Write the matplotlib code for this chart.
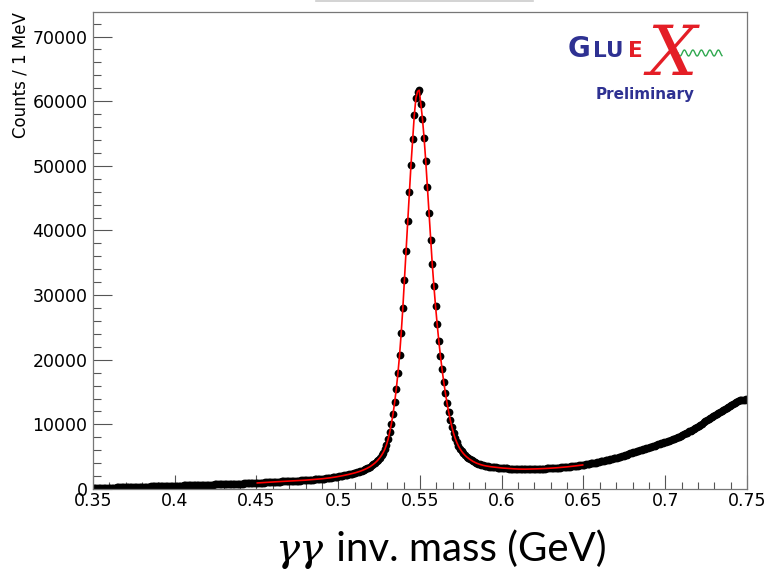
import numpy as np
import matplotlib.pyplot as plt
from matplotlib.lines import Line2D

# counts per 1 MeV bin, first bin centre 0.3505 GeV
counts = [
    150, 152, 160, 163, 171, 176, 182, 190, 196, 204,
    212, 218, 224, 232, 238, 246, 251, 259, 266, 273,
    281, 287, 295, 301, 309, 316, 322, 330, 337, 344,
    352, 359, 367, 373, 381, 389, 396, 403, 411, 418,
    426, 434, 441, 449, 456, 464, 471, 480, 486, 494,
    503, 510, 519, 526, 534, 542, 550, 557, 566, 573,
    582, 590, 598, 606, 614, 622, 631, 638, 647, 655,
    664, 672, 680, 689, 697, 705, 714, 722, 731, 739,
    748, 757, 765, 774, 783, 791, 800, 809, 818, 827,
    836, 845, 855, 864, 873, 883, 892, 902, 911, 921,
    937, 954, 970, 987, 1003, 1020, 1036, 1052, 1068, 1084,
    1098, 1111, 1124, 1137, 1150, 1162, 1175, 1188, 1200, 1213,
    1226, 1240, 1254, 1268, 1283, 1298, 1313, 1328, 1344, 1360,
    1380, 1398, 1417, 1437, 1457, 1478, 1499, 1521, 1543, 1566,
    1592, 1620, 1650, 1682, 1715, 1750, 1787, 1825, 1865, 1908,
    1955, 2003, 2052, 2103, 2156, 2211, 2268, 2327, 2388, 2452,
    2520, 2595, 2675, 2762, 2856, 2958, 3068, 3188, 3320, 3465,
    3640, 3830, 4040, 4280, 4550, 4860, 5220, 5640, 6150, 6850,
    7700, 8800, 10100, 11600, 13400, 15500, 17900, 20700, 24100, 28000,
    32400, 36900, 41400, 45900, 50200, 54100, 57800, 60500, 61500, 61700,
    59600, 57300, 54300, 50800, 46800, 42700, 38600, 34800, 31400, 28300,
    25500, 22900, 20600, 18500, 16600, 14900, 13350, 11950, 10700, 9600,
    8650, 7850, 7200, 6650, 6200, 5820, 5500, 5220, 4980, 4770,
    4580, 4410, 4260, 4130, 4010, 3910, 3820, 3740, 3670, 3610,
    3560, 3515, 3475, 3440, 3410, 3380, 3350, 3320, 3295, 3270,
    3245, 3225, 3205, 3185, 3165, 3150, 3135, 3120, 3105, 3095,
    3085, 3078, 3072, 3070, 3072, 3076, 3080, 3086, 3093, 3100,
    3108, 3116, 3125, 3135, 3146, 3158, 3170, 3183, 3197, 3212,
    3228, 3245, 3263, 3282, 3302, 3323, 3345, 3368, 3392, 3417,
    3443, 3470, 3498, 3527, 3557, 3588, 3620, 3653, 3687, 3722,
    3760, 3800, 3845, 3890, 3960, 4010, 4040, 4090, 4150, 4210,
    4270, 4320, 4375, 4430, 4490, 4550, 4610, 4670, 4730, 4800,
    4870, 4940, 5010, 5090, 5170, 5250, 5330, 5420, 5510, 5600,
    5690, 5770, 5850, 5930, 6010, 6090, 6170, 6250, 6330, 6410,
    6490, 6570, 6650, 6730, 6810, 6890, 6970, 7050, 7130, 7210,
    7300, 7400, 7500, 7650, 7700, 7800, 7900, 8010, 8120, 8230,
    8350, 8480, 8600, 8740, 8950, 9020, 9170, 9320, 9480, 9640,
    9800, 9960, 10130, 10380, 10460, 10620, 10780, 10940, 11100, 11260,
    11420, 11580, 11740, 11900, 12070, 12230, 12400, 12560, 12730, 12900,
    13060, 13220, 13380, 13520, 13640, 13720, 13760, 13780, 13800, 13850,
]
first_bin = 0.3505
bin_width = 0.001
fit_range = (0.45, 0.65)

x_ticks = [0.35, 0.4, 0.45, 0.5, 0.55, 0.6, 0.65, 0.7, 0.75]
x_ticklabels = ["0.35", "0.4", "0.45", "0.5", "0.55", "0.6", "0.65", "0.7", "0.75"]
y_ticks = [0, 10000, 20000, 30000, 40000, 50000, 60000, 70000]

mass = first_bin + bin_width * np.arange(len(counts))
counts = np.array(counts)

W, H = 766, 573
fig = plt.figure(figsize=(W / 100, H / 100), dpi=100)
ax = fig.add_axes([93 / W, 1 - 489 / H, (747 - 93) / W, (489 - 12) / H])

ax.plot(mass, counts, "o", color="black", ms=5.6, mew=0, zorder=2)
sel = (mass >= fit_range[0]) & (mass <= fit_range[1])
ax.plot(mass[sel], counts[sel], color="red", lw=1.2, zorder=3)

ax.set_xlim(0.35, 0.75)
ax.set_ylim(0, 73800)
ax.set_xticks(x_ticks)
ax.set_xticklabels(x_ticklabels)
ax.set_xticks(np.arange(0.35, 0.7501, 0.01), minor=True)
ax.set_yticks(y_ticks)
ax.set_yticklabels([str(v) for v in y_ticks])
ax.set_yticks(np.arange(0, 73801, 2000), minor=True)

ax.tick_params(which="both", direction="in", top=False, right=False,
               color="#555555", width=0.8, labelsize=12.5, labelcolor="black")
ax.tick_params(axis="x", which="major", length=10, pad=2)
ax.tick_params(axis="x", which="minor", length=5)
ax.tick_params(axis="y", which="major", length=14, pad=4)
ax.tick_params(axis="y", which="minor", length=6)
for s in ax.spines.values():
    s.set_color("#777777")
    s.set_linewidth(0.9)

ax.set_ylabel("Counts / 1 MeV", loc="top", fontsize=12)
ax.yaxis.set_label_coords(-0.097, 1.0)

# x axis title, slide style
fig.canvas.draw()
t1 = fig.text(275 / W, 1 - 561 / H, "\u03b3\u03b3", fontsize=29,
              family="DejaVu Serif", style="italic", va="baseline")
fig.canvas.draw()
bb = t1.get_window_extent()
fig.text(bb.x1 / W + 0.004, 1 - 561 / H, " inv. mass (GeV)", fontsize=29,
         family="Lato", va="baseline")

# edge of the cut-off title box
fig.add_artist(Line2D([316 / W, 533 / W], [1 - 1 / H, 1 - 1 / H],
                      transform=fig.transFigure, color="#cccccc", lw=1.2))

# GlueX logo
blue = "#2e3192"
fig.text(568 / W, 1 - 57 / H, "G", fontsize=20, weight="bold", color=blue)
fig.text(593 / W, 1 - 57 / H, "LU", fontsize=15.5, weight="bold", color=blue)
fig.text(628 / W, 1 - 57 / H, "E", fontsize=15.5, weight="bold", color="#e41e26")
wx = np.linspace(678, 722, 120)
wy = 53 + 3 * np.sin((wx - 678) / 8.5 * 2 * np.pi)
fig.add_artist(Line2D(wx / W, 1 - wy / H, transform=fig.transFigure,
                      color="#2fa84f", lw=1.0))
fig.text(672 / W, 1 - 56 / H, "X", fontsize=50, family="DejaVu Serif",
         style="italic", color="#e41e26", ha="center", va="center")
fig.text(645 / W, 1 - 95 / H, "Preliminary", fontsize=11, weight="bold",
         color=blue, ha="center", va="center")

fig.savefig("out.png", dpi=100)
